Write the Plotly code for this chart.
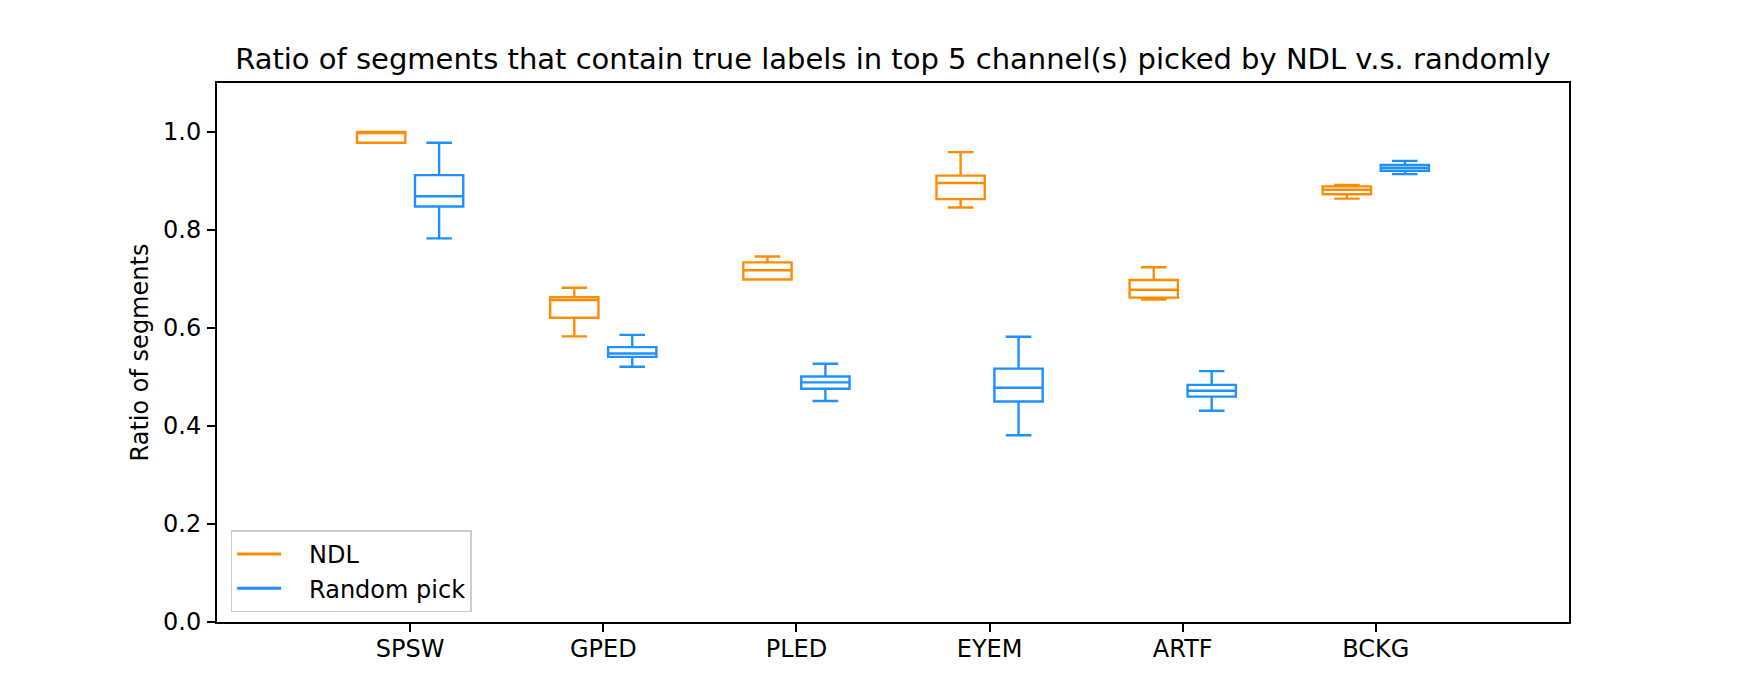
import plotly.graph_objects as go

categories = ["SPSW", "GPED", "PLED", "EYEM", "ARTF", "BCKG"]

# NDL box statistics
ndl_lower = [0.978, 0.583, 0.699, 0.846, 0.658, 0.864]
ndl_q1 = [0.978, 0.621, 0.699, 0.863, 0.662, 0.873]
ndl_median = [1.000, 0.657, 0.718, 0.896, 0.678, 0.882]
ndl_q3 = [1.000, 0.663, 0.734, 0.911, 0.698, 0.889]
ndl_upper = [1.000, 0.682, 0.746, 0.959, 0.724, 0.892]

# Random pick box statistics
rnd_lower = [0.783, 0.521, 0.451, 0.381, 0.431, 0.914]
rnd_q1 = [0.848, 0.541, 0.476, 0.450, 0.460, 0.921]
rnd_median = [0.869, 0.548, 0.489, 0.478, 0.472, 0.927]
rnd_q3 = [0.912, 0.561, 0.501, 0.517, 0.484, 0.933]
rnd_upper = [0.978, 0.586, 0.527, 0.582, 0.512, 0.941]

series_names = ["NDL", "Random pick"]

ORANGE = "#FF8C00"
BLUE = "#1E90FF"
FONT = "DejaVu Sans"
PAD = "\u00a0\u00a0\u00a0"

centers = [2 * i for i in range(len(categories))]
offset = 0.3

fig = go.Figure()

fig.add_trace(go.Box(
    x=[c - offset for c in centers],
    lowerfence=ndl_lower, q1=ndl_q1, median=ndl_median, q3=ndl_q3, upperfence=ndl_upper,
    width=0.5, whiskerwidth=0.53, boxpoints=False,
    line=dict(color=ORANGE, width=2.4), fillcolor="rgba(0,0,0,0)",
    showlegend=False, name=series_names[0], hoverinfo="skip",
))
fig.add_trace(go.Box(
    x=[c + offset for c in centers],
    lowerfence=rnd_lower, q1=rnd_q1, median=rnd_median, q3=rnd_q3, upperfence=rnd_upper,
    width=0.5, whiskerwidth=0.53, boxpoints=False,
    line=dict(color=BLUE, width=2.4), fillcolor="rgba(0,0,0,0)",
    showlegend=False, name=series_names[1], hoverinfo="skip",
))

# legend line entries
fig.add_trace(go.Scatter(x=[None], y=[None], mode="lines", name=PAD + series_names[0],
                         line=dict(color=ORANGE, width=3)))
fig.add_trace(go.Scatter(x=[None], y=[None], mode="lines", name=PAD + series_names[1],
                         line=dict(color=BLUE, width=3)))

fig.update_layout(
    width=1744, height=698,
    margin=dict(l=217, r=175, t=83, b=76),
    paper_bgcolor="white", plot_bgcolor="white",
    font=dict(family=FONT, size=24, color="black"),
    boxmode="overlay",
    title=dict(
        text="Ratio of segments that contain true labels in top 5 channel(s) picked by NDL v.s. randomly",
        x=0.512, xanchor="center", y=0.915, yanchor="middle",
        font=dict(family=FONT, size=29, color="black"),
    ),
    xaxis=dict(
        range=[-2, 12], tickvals=centers, ticktext=categories,
        showgrid=False, zeroline=False,
        showline=True, linecolor="black", linewidth=2, mirror=True,
        ticks="outside", ticklen=8, tickwidth=2, tickcolor="black",
        tickfont=dict(size=24), ticklabelstandoff=-4,
    ),
    yaxis=dict(
        range=[0, 1.1], tickvals=[0, 0.2, 0.4, 0.6, 0.8, 1.0],
        ticktext=["0.0", "0.2", "0.4", "0.6", "0.8", "1.0"],
        showgrid=False, zeroline=False,
        showline=True, linecolor="black", linewidth=2, mirror=True,
        ticks="outside", ticklen=8, tickwidth=2, tickcolor="black",
        tickfont=dict(size=24), ticklabelstandoff=1,
        title=dict(text="Ratio of segments", font=dict(size=24), standoff=8),
    ),
    legend=dict(
        x=0.0101, y=0.17, xanchor="left", yanchor="top",
        bgcolor="rgba(255,255,255,0.8)", bordercolor="#cccccc", borderwidth=1.5,
        font=dict(size=24), itemwidth=44,
    ),
)

fig.write_html("out.html", post_script="document.body.style.margin='0';",
               config={"displayModeBar": False})
